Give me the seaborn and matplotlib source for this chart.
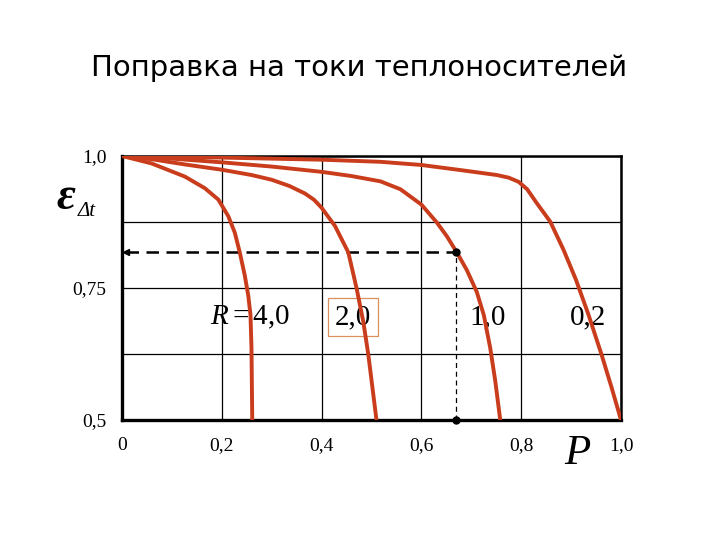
import matplotlib
matplotlib.use("Agg")
import matplotlib.pyplot as plt
import numpy as np
import pandas as pd
import seaborn as sns

# ---------------- data ----------------
title = "Поправка на токи теплоносителей"
r_values = ["4,0", "2,0", "1,0", "0,2"]
r_texts = [r"$R{=}$4,0", "2,0", "1,0", "0,2"]
r_text_pos_p = [0.257, 0.463, 0.7325, 0.934]
r_text_pos_eps = 0.695

p_r40 = [0.0, 0.059, 0.126, 0.166, 0.193, 0.213, 0.226, 0.236, 0.246, 0.253,
         0.2575, 0.2595, 0.261]
e_r40 = [1.0, 0.986, 0.961, 0.939, 0.9175, 0.886, 0.855, 0.8175, 0.774, 0.736,
         0.699, 0.636, 0.5]

p_r20 = [0.0, 0.059, 0.126, 0.2, 0.2595, 0.3, 0.336, 0.3666, 0.385, 0.4, 0.4268,
         0.4535, 0.470, 0.4836, 0.4936, 0.510]
e_r20 = [1.0, 0.994, 0.984, 0.974, 0.964, 0.955, 0.943, 0.929, 0.917, 0.902,
         0.8675, 0.8175, 0.75, 0.686, 0.624, 0.5]

p_r10 = [0.0, 0.1, 0.2, 0.3, 0.4, 0.46, 0.518, 0.558, 0.6, 0.631, 0.651, 0.671,
         0.691, 0.711, 0.725, 0.738, 0.748, 0.758]
e_r10 = [1.0, 0.995, 0.988, 0.98, 0.97, 0.962, 0.952, 0.937, 0.908, 0.874,
         0.848, 0.8175, 0.784, 0.7425, 0.699, 0.636, 0.574, 0.5]

p_r02 = [0.0, 0.2, 0.4, 0.518, 0.6, 0.685, 0.751, 0.775, 0.795, 0.812, 0.831,
         0.858, 0.885, 0.91, 0.935, 0.961, 0.981, 1.0]
e_r02 = [1.0, 0.997, 0.993, 0.989, 0.983, 0.9725, 0.964, 0.959, 0.951, 0.937,
         0.911, 0.876, 0.822, 0.765, 0.699, 0.624, 0.562, 0.5]

read_p = 0.67
read_eps = 0.8175

x_ticks = [0.0, 0.2, 0.4, 0.6, 0.8, 1.0]
x_ticklabels = ["0", "0,2", "0,4", "0,6", "0,8", "1,0"]
y_ticks = [0.5, 0.625, 0.75, 0.875, 1.0]
y_ticklabels = ["0,5", "", "0,75", "", "1,0"]

frames = []
for r, p, e in zip(r_values, [p_r40, p_r20, p_r10, p_r02], [e_r40, e_r20, e_r10, e_r02]):
    frames.append(pd.DataFrame({"P": p, "eps": e, "R": r}))
df = pd.concat(frames, ignore_index=True)

# ---------------- plot ----------------
sns.set_style("white")
plt.rcParams["font.family"] = ["Liberation Serif", "DejaVu Serif"]
plt.rcParams["text.color"] = "black"
plt.rcParams["xtick.color"] = "black"
plt.rcParams["ytick.color"] = "black"
plt.rcParams["mathtext.fontset"] = "custom"
plt.rcParams["mathtext.rm"] = "Liberation Serif"
plt.rcParams["mathtext.it"] = "Liberation Serif:italic"

curve_color = "#C93C1C"

fig = plt.figure(figsize=(7.2, 5.4), dpi=100)
ax = fig.add_axes([122 / 720, 1 - 420 / 540, 499 / 720, 264 / 540])

sns.lineplot(data=df, x="P", y="eps", hue="R", palette=[curve_color] * 4,
             estimator=None, sort=False, legend=False, lw=2.8, ax=ax, zorder=4,
             solid_joinstyle="round", solid_capstyle="butt")

ax.set_xlim(0, 1.0)
ax.set_ylim(0.5, 1.0)
ax.set_xticks(x_ticks)
ax.set_xticklabels(x_ticklabels, fontsize=14)
ax.set_yticks(y_ticks)
ax.set_yticklabels(y_ticklabels, fontsize=14)
ax.tick_params(axis="both", length=0, colors="black")
ax.tick_params(axis="x", pad=12)
ax.tick_params(axis="y", pad=11)
ax.set_xlabel("")
ax.set_ylabel("")
ax.grid(True, color="black", lw=0.9)
ax.set_axisbelow(True)
for side, lw in [("left", 2.4), ("bottom", 2.4), ("top", 1.8), ("right", 1.8)]:
    ax.spines[side].set_visible(True)
    ax.spines[side].set_color("black")
    ax.spines[side].set_linewidth(lw)

# reading lines
ax.plot([0.008, read_p], [read_eps, read_eps], color="black", lw=1.8,
        dashes=(5, 3), zorder=3)
ax.plot([0.008], [read_eps], marker="<", color="black", ms=5, zorder=3)
ax.plot([read_p, read_p], [0.5, read_eps], color="black", lw=0.9,
        dashes=(4, 3), zorder=3)
ax.plot([read_p], [read_eps], "o", color="black", ms=5, zorder=5)
ax.plot([read_p], [0.5], "o", color="black", ms=5, zorder=5, clip_on=False)

# curve labels
for i, (txt, px) in enumerate(zip(r_texts, r_text_pos_p)):
    kw = {}
    if i == 1:
        kw["bbox"] = dict(boxstyle="square,pad=0.22", fc="none", ec="#D8905E", lw=0.9)
    ax.text(px, r_text_pos_eps, txt, fontsize=21, ha="center", va="center",
            zorder=2, **kw)

# axis symbols
fig.text(577 / 720, 1 - 454 / 540, "P", fontsize=31, style="italic",
         ha="center", va="center")
fig.text(66 / 720, 1 - 198 / 540, "ε", fontsize=33, style="italic",
         weight="bold", ha="center", va="center")
fig.text(87 / 720, 1 - 212 / 540, "Δt", fontsize=15, style="italic",
         ha="center", va="center")

fig.text(359 / 720, 1 - 68 / 540, title, fontsize=21, family="DejaVu Sans",
         ha="center", va="center", color="black")

fig.savefig("out.png", dpi=100)
